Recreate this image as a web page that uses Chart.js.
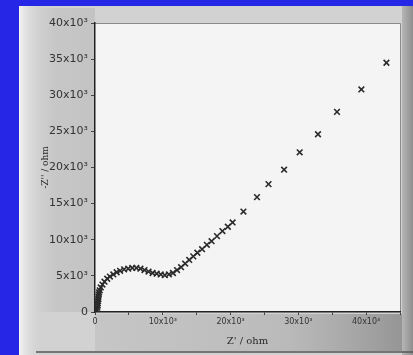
<!DOCTYPE html>
<html>
<head>
<meta charset="utf-8">
<script src="https://cdn.jsdelivr.net/npm/chart.js@4/dist/chart.umd.min.js"></script>
<style>
  html, body { margin: 0; padding: 0; background: #2626e6; }
  #wrap { position: relative; width: 413px; height: 355px; }
</style>
</head>
<body>
<div id="wrap"><canvas id="c" width="413" height="355"></canvas></div>
<script>
// Impedance spectrum (Nyquist plot): real part Z' vs. imaginary part -Z'' in ohm
const zReal = [
  300, 350, 400, 400, 450, 500, 500, 550, 600, 700,
  850, 1100, 1400, 1800, 2200, 2700, 3200, 3700, 4300, 4900,
  5500, 6100, 6700, 7300, 7900, 8500, 9100, 9700, 10300, 10900,
  11500, 12100, 12700, 13300, 13900, 14500, 15100, 15800, 16500, 17200,
  18000, 18800, 19600, 20300, 21900, 23900, 25600, 27900, 30200, 32900,
  35700, 39300, 43000
];
const zImag = [
  300, 600, 900, 1200, 1500, 1800, 2100, 2400, 2700, 3000,
  3400, 3800, 4200, 4600, 4900, 5200, 5500, 5700, 5900, 6000,
  6100, 6100, 6000, 5800, 5600, 5400, 5300, 5200, 5100, 5200,
  5400, 5800, 6200, 6700, 7200, 7700, 8200, 8700, 9300, 9800,
  10500, 11200, 11800, 12400, 13900, 15900, 17700, 19700, 22100, 24600,
  27700, 30800, 34500
];
const xTickValues = [0, 10000, 20000, 30000, 40000];
const xTickLabels = ['0', '10x10³', '20x10³', '30x10³', '40x10³'];
const yTickValues = [0, 5000, 10000, 15000, 20000, 25000, 30000, 35000, 40000];
const yTickLabels = ['0', '5x10³', '10x10³', '15x10³', '20x10³', '25x10³', '30x10³', '35x10³', '40x10³'];

const points = zReal.map((x, i) => ({ x: x, y: zImag[i] }));

// Photo-like backdrop: blue surround, grey card, white plot field
const backdrop = {
  id: 'backdrop',
  beforeDraw(chart) {
    const ctx = chart.ctx;
    const a = chart.chartArea;
    const W = chart.width, H = chart.height;
    ctx.save();
    ctx.fillStyle = '#2626e6';
    ctx.fillRect(0, 0, W, H);
    // grey card
    ctx.fillStyle = '#d2d2d2';
    ctx.fillRect(19, 6, W - 19, H - 6);
    // light left gutter
    const gl = ctx.createLinearGradient(19, 0, 42, 0);
    gl.addColorStop(0, '#f2f2f2');
    gl.addColorStop(1, 'rgba(210,210,210,0)');
    ctx.fillStyle = gl;
    ctx.fillRect(19, 6, 23, H - 6);
    // softer band behind the y tick labels
    const gy = ctx.createLinearGradient(36, 0, a.left, 0);
    gy.addColorStop(0, 'rgba(160,160,160,0)');
    gy.addColorStop(0.3, 'rgba(160,160,160,0.22)');
    gy.addColorStop(1, 'rgba(160,160,160,0.3)');
    ctx.fillStyle = gy;
    ctx.fillRect(36, 8, a.left - 36, a.bottom - 8);
    // band under the x axis, darker towards the right
    const gb = ctx.createLinearGradient(a.left, 0, W, 0);
    gb.addColorStop(0, 'rgba(170,170,170,0.3)');
    gb.addColorStop(0.6, 'rgba(150,150,150,0.4)');
    gb.addColorStop(1, 'rgba(110,110,110,0.65)');
    ctx.fillStyle = gb;
    ctx.fillRect(a.left, a.bottom + 2, W - a.left, H - a.bottom - 6);
    // shadowed right edge
    const gr = ctx.createLinearGradient(a.right, 0, W, 0);
    gr.addColorStop(0, '#bdbdbd');
    gr.addColorStop(1, '#8e8e8e');
    ctx.fillStyle = gr;
    ctx.fillRect(a.right + 2, 6, W - a.right - 2, H - 6);
    // plot field
    ctx.fillStyle = '#f4f4f4';
    ctx.fillRect(a.left, a.top, a.right - a.left, a.bottom - a.top);
    // frame on top and right
    ctx.strokeStyle = '#8a8a8a';
    ctx.lineWidth = 1;
    ctx.beginPath();
    ctx.moveTo(a.left, a.top + 0.5);
    ctx.lineTo(a.right + 0.5, a.top + 0.5);
    ctx.lineTo(a.right + 0.5, a.bottom);
    ctx.stroke();
    // dark edge line near the bottom of the card
    ctx.strokeStyle = '#555555';
    ctx.lineWidth = 1.5;
    ctx.beginPath();
    ctx.moveTo(36, H - 3);
    ctx.lineTo(W, H - 3);
    ctx.stroke();
    ctx.restore();
  }
};

new Chart(document.getElementById('c'), {
  type: 'scatter',
  data: {
    datasets: [{
      data: points,
      pointStyle: 'crossRot',
      pointRadius: 4,
      pointBorderWidth: 1.6,
      borderColor: '#2a2a2a',
      backgroundColor: '#2a2a2a'
    }]
  },
  plugins: [backdrop],
  options: {
    responsive: false,
    animation: false,
    events: [],
    layout: { padding: { left: 38, top: 23, right: 13, bottom: 8 } },
    plugins: { legend: { display: false }, tooltip: { enabled: false } },
    scales: {
      x: {
        type: 'linear',
        min: 0,
        max: 45000,
        afterFit(scale) { scale.height = 35; },
        afterBuildTicks(scale) {
          const t = [];
          for (let v = 0; v <= 45000; v += 5000) t.push({ value: v });
          scale.ticks = t;
        },
        ticks: {
          autoSkip: false,
          maxRotation: 0,
          padding: 2,
          color: '#333333',
          font: { family: 'DejaVu Sans', size: 8 },
          callback(v) {
            const i = xTickValues.indexOf(v);
            return i >= 0 ? xTickLabels[i] : '';
          }
        },
        grid: { drawOnChartArea: false, drawTicks: true, tickLength: 3, color: '#444444' },
        border: { display: true, color: '#222222', width: 1.5 },
        title: {
          display: true,
          text: "Z' / ohm",
          color: '#2a2a2a',
          font: { family: 'DejaVu Serif', size: 10 },
          padding: { top: 0, bottom: 0 }
        }
      },
      y: {
        type: 'linear',
        min: 0,
        max: 40000,
        afterFit(scale) { scale.width = 57; },
        afterBuildTicks(scale) {
          scale.ticks = yTickValues.map(v => ({ value: v }));
        },
        ticks: {
          autoSkip: false,
          padding: 3,
          color: '#333333',
          font: { family: 'DejaVu Sans', size: 11 },
          callback(v) {
            const i = yTickValues.indexOf(v);
            return i >= 0 ? yTickLabels[i] : '';
          }
        },
        grid: { drawOnChartArea: false, drawTicks: true, tickLength: 4, color: '#444444' },
        border: { display: true, color: '#222222', width: 1.5 },
        title: {
          display: true,
          text: "-Z'' / ohm",
          color: '#2a2a2a',
          font: { family: 'DejaVu Serif', size: 9 },
          padding: { top: 2, bottom: 0 }
        }
      }
    }
  }
});
</script>
</body>
</html>
